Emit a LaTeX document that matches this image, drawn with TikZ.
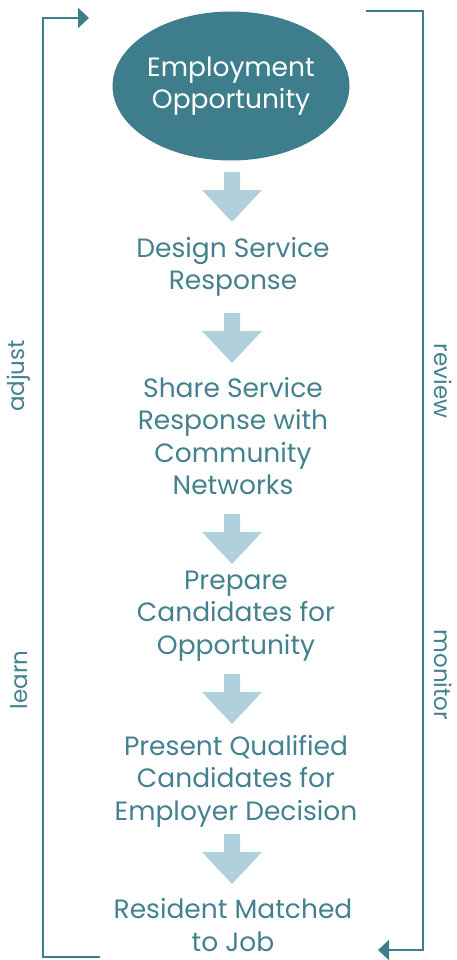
\documentclass[tikz,border=0pt]{standalone}
\usepackage{fontspec}
\setmainfont{Poppins}
\usetikzlibrary{arrows.meta,shapes.geometric}
\definecolor{teal1}{HTML}{3E7E8C}
\definecolor{tealtxt}{HTML}{44818F}
\definecolor{lightarr}{HTML}{B0D0DC}
\tikzset{
  steptext/.style={align=center, text=tealtxt, font=\fontsize{26.5}{32.5}\selectfont, inner sep=0pt},
  sidetext/.style={text=tealtxt, font=\fontsize{23}{26}\selectfont, inner sep=0pt},
  loopline/.style={draw=teal1, line width=2pt},
  looptip/.style={-{Triangle[length=11pt,width=20pt]}},
  blockarrow/.style={fill=lightarr}
}
\begin{document}
\begin{tikzpicture}[x=1pt,y=-1pt]
\useasboundingbox (0,0) rectangle (456,960);
\node[ellipse, fill=teal1, minimum width=222pt, minimum height=149pt, inner sep=0pt, align=center, text=white, font=\fontsize{26.5}{32.5}\selectfont] (opp) at (231,86) {Employment\\Opportunity};
\node[steptext] (design) at (233,267) {Design Service\\Response};
\node[steptext] (share) at (233,436) {Share Service\\Response with\\Community\\Networks};
\node[steptext] (prepare) at (236,616) {Prepare\\Candidates for\\Opportunity};
\node[steptext] (present) at (236,781) {Present Qualified\\Candidates for\\Employer Decision};
\node[steptext] (resident) at (233,925) {Resident Matched\\to Job};
\foreach \y in {172,313,514,674,834}{
  \fill[blockarrow] (224,\y) -- (240,\y) -- (240,\y+18) -- (262,\y+18) -- (232,\y+50) -- (202,\y+18) -- (224,\y+18) -- cycle;
}
\coordinate (lb) at (100,957);
\coordinate (lbc) at (43,957);
\coordinate (ltc) at (43,18);
\coordinate (lt) at (89,18);
\draw[loopline, looptip] (lb) -- (lbc) -- (ltc) -- (lt);
\coordinate (rt) at (366,11);
\coordinate (rtc) at (423,11);
\coordinate (rbc) at (423,950);
\coordinate (rb) at (378,950);
\draw[loopline, looptip] (rt) -- (rtc) -- (rbc) -- (rb);
\node[sidetext, rotate=90] (adjust) at (19,376) {adjust};
\node[sidetext, rotate=90] (learn) at (19,680) {learn};
\node[sidetext, rotate=-90] (review) at (443,381) {review};
\node[sidetext, rotate=-90] (monitor) at (443,675) {monitor};
\end{tikzpicture}
\end{document}
